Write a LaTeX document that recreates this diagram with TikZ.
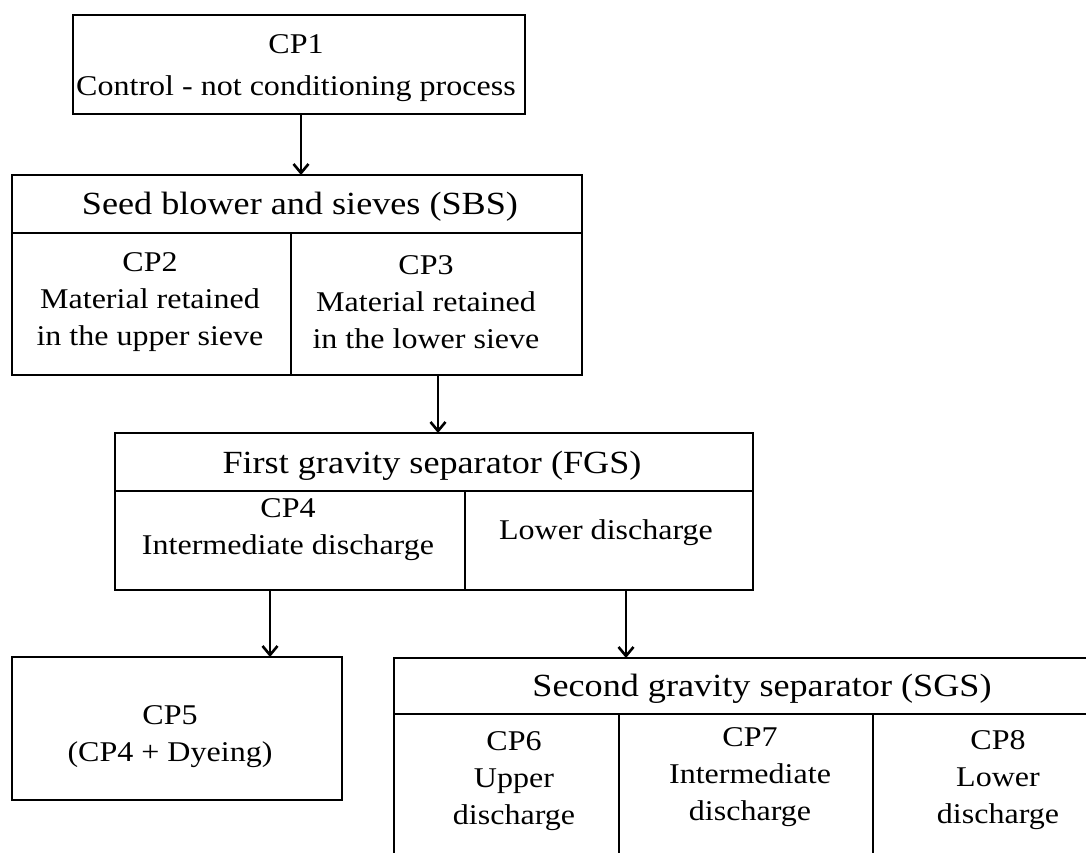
\documentclass[tikz,border=0pt]{standalone}
\usepackage{fontspec}
\setmainfont{Liberation Serif}[FakeStretch=1.12]
\usetikzlibrary{arrows.meta}
\tikzset{
  box/.style={draw, line width=2.6pt, inner sep=0pt, outer sep=0pt},
  txt/.style={align=center, inner sep=0pt, font=\fontsize{28.6}{37}\selectfont},
  hdr/.style={inner sep=0pt, font=\fontsize{32.3}{38}\selectfont},
  arr/.style={line width=2.6pt, -{Straight Barb[length=9pt,width=15pt]}}
}
\begin{document}
\begin{tikzpicture}[x=1pt,y=-1pt]
\useasboundingbox (0,0) rectangle (1086,852);
\clip (0,0) rectangle (1086,852);
\fill[white] (0,0) rectangle (1086,852);

% CP1
\node[box, minimum width=452pt, minimum height=99pt] (cp1) at (299,64.5) {};
\node[txt] (cp1t) at (296,68) {CP1\\[5pt]Control - not conditioning process};

% SBS
\node[box, minimum width=570pt, minimum height=58pt] (sbsH) at (297,204) {};
\node[hdr] (sbsHt) at (300,207) {Seed blower and sieves (SBS)};
\node[box, minimum width=279pt, minimum height=142pt] (sbsL) at (151.5,304) {};
\node[box, minimum width=291pt, minimum height=142pt] (sbsR) at (436.5,304) {};
\node[txt] (cp2t) at (150,302) {CP2\\Material retained\\in the upper sieve};
\node[txt] (cp3t) at (426,302) {CP3\\Material retained\\in the lower sieve};

% FGS
\node[box, minimum width=638pt, minimum height=58pt] (fgsH) at (434,462) {};
\node[hdr] (fgsHt) at (432,466) {First gravity separator (FGS)};
\node[box, minimum width=350pt, minimum height=99pt] (fgsL) at (290,540.5) {};
\node[box, minimum width=288pt, minimum height=99pt] (fgsR) at (609,540.5) {};
\node[txt] (cp4t) at (288,530) {CP4\\Intermediate discharge};
\node[txt] (lowt) at (606,533) {Lower discharge};

% CP5
\node[box, minimum width=330pt, minimum height=143pt] (cp5) at (177,728.5) {};
\node[txt] (cp5t) at (170,737) {CP5\\(CP4 + Dyeing)};

% SGS
\node[box, minimum width=729pt, minimum height=56pt] (sgsH) at (758.5,686) {};
\node[hdr] (sgsHt) at (762,689) {Second gravity separator (SGS)};
\node[box, minimum width=225pt, minimum height=156pt] (sgsA) at (506.5,792) {};
\node[box, minimum width=254pt, minimum height=156pt] (sgsB) at (746,792) {};
\node[box, minimum width=250pt, minimum height=156pt] (sgsC) at (998,792) {};
\node[txt] (cp6t) at (514,781) {CP6\\Upper\\discharge};
\node[txt] (cp7t) at (750,777) {CP7\\Intermediate\\discharge};
\node[txt] (cp8t) at (998,780) {CP8\\Lower\\discharge};

% connectors
\draw[arr] ([xshift=2pt]cp1.south) -- ([xshift=2pt]cp1.south |- sbsH.north);
\draw[arr] ([xshift=1.5pt]sbsR.south) -- ([xshift=1.5pt]sbsR.south |- fgsH.north);
\draw[arr] ([xshift=-20pt]fgsL.south) -- ([xshift=-20pt]fgsL.south |- cp5.north);
\draw[arr] ([xshift=17pt]fgsR.south) -- ([xshift=17pt]fgsR.south |- sgsH.north);
\end{tikzpicture}
\end{document}
